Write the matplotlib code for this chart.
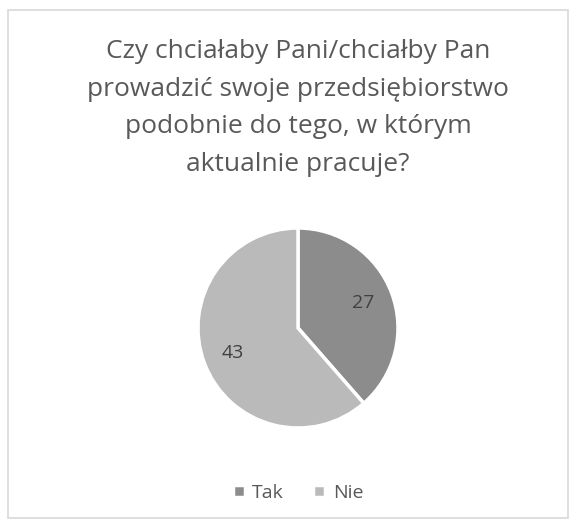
import matplotlib
matplotlib.use('Agg')
import matplotlib.pyplot as plt
from matplotlib.patches import Rectangle

labels = ['Tak', 'Nie']
values = [27, 43]
colors = ['#8c8c8c', '#bababa']
title = 'Czy chciałaby Pani/chciałby Pan\nprowadzić swoje przedsiębiorstwo\npodobnie do tego, w którym\naktualnie pracuje?'

plt.rcParams['font.family'] = ['Open Sans', 'DejaVu Sans']

fig = plt.figure(figsize=(5.77, 5.28), dpi=100)
fig.patches.append(Rectangle((8 / 577, 10 / 528), 560 / 577, 508 / 528,
                             transform=fig.transFigure, fill=False,
                             edgecolor='#d9d9d9', linewidth=1.2))

fig.text(298 / 577, 1 - 108 / 528, title, ha='center', va='center',
         fontsize=19, color='#595959', linespacing=1.68)

ax = fig.add_axes([196 / 577, 1 - 430 / 528, 204 / 577, 204 / 528])
wedges, texts = ax.pie(values, colors=colors, startangle=90, counterclock=False,
                       labels=[str(v) for v in values], labeldistance=0.7,
                       wedgeprops=dict(edgecolor='white', linewidth=2.5),
                       textprops=dict(fontsize=14, color='#404040'))
for t in texts:
    t.set_ha('center')
    t.set_va('center')
ax.set_xlim(-1.02, 1.02)
ax.set_ylim(-1.02, 1.02)
ax.set_aspect('equal')

fig.legend(wedges, labels, loc='center', bbox_to_anchor=(298 / 577, 1 - 493 / 528),
           ncol=2, frameon=False, fontsize=14, handlelength=0.6, handleheight=0.6,
           handletextpad=0.4, columnspacing=1.5, labelcolor='#595959')

fig.savefig('out.png', dpi=100)
